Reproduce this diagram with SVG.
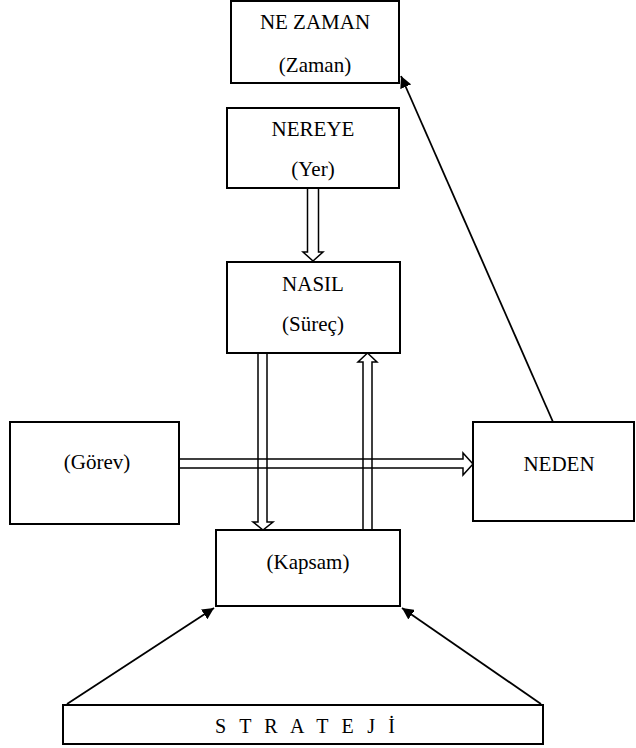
<svg xmlns="http://www.w3.org/2000/svg" width="636" height="748" viewBox="0 0 636 748">
<style>
.box{fill:#fff;stroke:#000;stroke-width:2}
.t{font-family:'Liberation Serif','Times New Roman','DejaVu Serif',serif;font-size:21px;fill:#000;text-anchor:middle}
.s{font-family:'Liberation Serif','Times New Roman','DejaVu Serif',serif;font-size:20px;fill:#000}
.dbl{fill:none;stroke:#000;stroke-width:1.5;stroke-linejoin:miter}
.ln{fill:none;stroke:#000;stroke-width:1.8}
</style>
<defs>
<marker id="ah" viewBox="0 0 10 10" refX="10" refY="5" markerWidth="6.5" markerHeight="6.5" orient="auto" markerUnits="strokeWidth">
<path d="M0,0 L10,5 L0,10 z" fill="#000"/>
</marker>
</defs>
<rect width="636" height="748" fill="#fff"/>
<g id="nodes">
<g id="ne-zaman"><rect class="box" x="231" y="1" width="168" height="82"/><text class="t" x="315" y="29">NE ZAMAN</text><text class="t" x="315" y="72">(Zaman)</text></g>
<g id="nereye"><rect class="box" x="227" y="108" width="172" height="80"/><text class="t" x="313" y="136">NEREYE</text><text class="t" x="313" y="176">(Yer)</text></g>
<g id="nasil"><rect class="box" x="227" y="262" width="173" height="91"/><text class="t" x="313" y="291">NASIL</text><text class="t" x="313" y="331">(Süreç)</text></g>
<g id="gorev"><rect class="box" x="10" y="422" width="169" height="102"/><text class="t" x="97" y="469">(Görev)</text></g>
<g id="neden"><rect class="box" x="473" y="422" width="161" height="99"/><text class="t" x="559" y="471">NEDEN</text></g>
<g id="kapsam"><rect class="box" x="216" y="530" width="184" height="76"/><text class="t" x="308" y="569">(Kapsam)</text></g>
<g id="strateji"><rect class="box" x="63" y="705" width="480" height="39"/><text class="s" x="215" y="733" textLength="180" lengthAdjust="spacing">S T R A T E J İ</text></g>
</g>
<g id="connectors">
<polygon class="dbl" points="307.5,188 307.5,252 303,252 313,261 323,252 318.5,252 318.5,188" fill="#fff"/>
<polygon class="dbl" points="258,353 258,522 253,522 263,530 273,522 267,522 267,353"/>
<polygon class="dbl" points="363,530 363,362 358,362 367.5,353 377,362 372,362 372,530"/>
<polygon class="dbl" points="179,459 463,459 463,453 473,464 463,475 463,468 179,468"/>
<line class="ln" x1="553" y1="422" x2="401" y2="76" marker-end="url(#ah)"/>
<line class="ln" x1="67" y1="704" x2="214" y2="608" marker-end="url(#ah)"/>
<line class="ln" x1="541" y1="704" x2="402" y2="608" marker-end="url(#ah)"/>
</g>
</svg>
